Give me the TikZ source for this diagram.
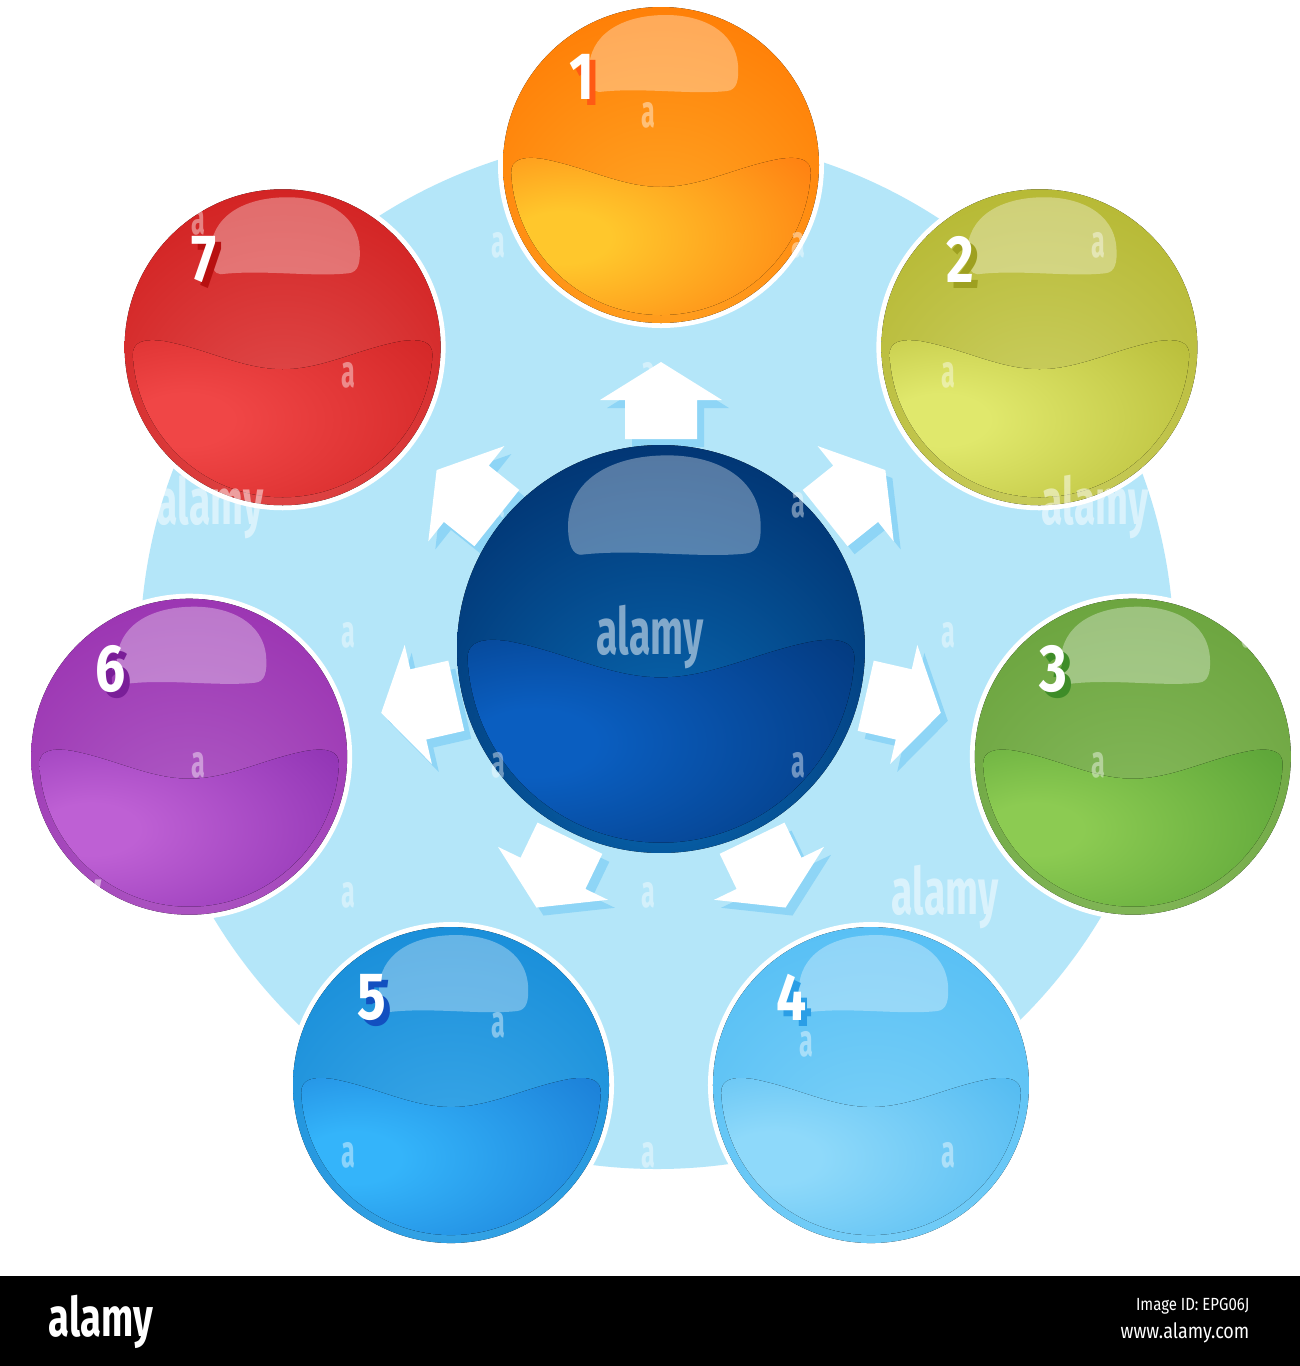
\documentclass[tikz,border=0pt]{standalone}
\usepackage{fontspec}
\setmainfont{Fira Sans}
\newfontfamily\numfont{Fira Sans}
\usetikzlibrary{calc}
\definecolor{sbase}{HTML}{FF7A00}
\definecolor{sglow}{HTML}{FFA428}
\definecolor{sbright}{HTML}{FFC72C}
\definecolor{sdark}{HTML}{FF5200}
\definecolor{sshadow}{HTML}{FF5A14}
\definecolor{bgblue}{HTML}{B4E6F9}
\definecolor{arrowshade}{HTML}{8ED5F6}
\pgfdeclareradialshading[sbase,sglow]{basesh}{\pgfpoint{0bp}{-15bp}}{color(0bp)=(sglow); color(8bp)=(sglow); color(42bp)=(sbase); color(90bp)=(sbase)}
\pgfdeclareradialshading[sbright,sdark]{bandsh}{\pgfpoint{-18bp}{0bp}}{color(0bp)=(sbright); color(8bp)=(sbright); color(64bp)=(sdark); color(90bp)=(sdark)}
\tikzset{
  numtxt/.style={font=\numfont\bfseries\fontsize{19}{19}\selectfont, inner sep=0pt},
  wmword/.style={font=\numfont\bfseries\fontsize{18.5}{18.5}\selectfont, text=white, opacity=0.5, inner sep=0pt},
  wma/.style={font=\numfont\bfseries\fontsize{13}{13}\selectfont, text=white, opacity=0.42, inner sep=0pt},
  arrowbody/.style={fill=white},
  arrowshadow/.style={fill=arrowshade}
}
\newcommand\drawball[4]{%
  \begin{scope}[shift={(#1,#2)}, scale=#3]
    \ifnum#4=1 \fill[white] (0,0) circle[radius=163];\fi
    \fill[shading=basesh] (0,0) circle[radius=158];
    \fill[shading=bandsh] (-149.8,7.85)
      .. controls (-150,-6) and (-138,-9) .. (-118,-6)
      .. controls (-75,2) and (-40,22) .. (0,22)
      .. controls (40,22) and (75,2) .. (118,-6)
      .. controls (138,-9) and (150,-6) .. (149.8,7.85)
      arc[start angle=3, end angle=177, radius=150] -- cycle;
    \fill[white, opacity=0.33] (-62,-73)
      .. controls (-20,-78) and (30,-70) .. (66,-74)
      .. controls (76,-75) and (78,-85) .. (77,-100)
      .. controls (74,-135) and (40,-150) .. (5,-150)
      .. controls (-40,-150) and (-72,-130) .. (-72,-95)
      .. controls (-72,-80) and (-68,-73) .. (-62,-73) -- cycle;
  \end{scope}}
\begin{document}
\begin{tikzpicture}[x=0.01cm, y=-0.01cm]
\useasboundingbox (0,0) rectangle (1300,1366);
\fill[white] (0,0) rectangle (1300,1366);
% background disc
\fill[bgblue] (657,652) circle[radius=517];
\coordinate (hub) at (661,649);
% arrows
\foreach \k in {1,...,7}{
  \pgfmathsetmacro\a{90-(\k-1)*360/7}
  \fill[arrowshadow, shift={(668,657)}, rotate=\a] (210,-36) -- (249,-36) -- (249,-61) -- (287,0) -- (249,61) -- (249,36) -- (210,36) -- cycle;
  \fill[arrowbody, shift={(hub)}, rotate=\a] (210,-36) -- (249,-36) -- (249,-61) -- (287,0) -- (249,61) -- (249,36) -- (210,36) -- cycle;
}
% centre ball
\definecolor{sbase}{HTML}{002A66}
\definecolor{sglow}{HTML}{075FA6}
\definecolor{sbright}{HTML}{0A5EC0}
\definecolor{sdark}{HTML}{002356}
\drawball{661}{649}{1.291}{0}
% outer balls
\foreach \k/\cb/\cg/\cbr/\cd/\cs in {
  1/FF7600/FFA020/FFC72C/FF5200/FF5A14,
  2/B2B42A/C8CC5C/E0E86C/A0A21A/9EA020,
  3/66A038/82B658/8CCB52/3E8C28/3E8C28,
  4/50BCF4/76CEF7/8ED9FA/2EA8EC/2A9EE6,
  5/1289D6/36A4E6/34B4FA/0C5EC2/1250C0,
  6/972CAE/AC56C2/BE60D4/7418A0/7A1E98,
  7/D01A1A/DE4646/F04646/C21414/B81010}{
  \pgfmathsetmacro\a{90-(\k-1)*360/7}
  \pgfmathsetmacro\xx{661+484*cos(\a)}
  \pgfmathsetmacro\yy{649-484*sin(\a)}
  \definecolor{sbase}{HTML}{\cb}
  \definecolor{sglow}{HTML}{\cg}
  \definecolor{sbright}{HTML}{\cbr}
  \definecolor{sdark}{HTML}{\cd}
  \definecolor{sshadow}{HTML}{\cs}
  \coordinate (s\k) at (\xx,\yy);
  \drawball{\xx}{\yy}{1}{1}
  \node[numtxt, text=white] (n\k) at ($(s\k)+(-79,-85)$) {\makebox[0pt][l]{\kern0.06cm\raisebox{-0.06cm}{\textcolor{sshadow}{\scalebox{0.8}[1]{\k}}}}\scalebox{0.8}[1]{\k}};
}
% watermark letters
\foreach \px/\py [count=\i] in {648/115,198/222,498/245,798/245,1098/245,348/375,648/375,948/375,498/505,798/505,348/635,948/635,1248/635,198/765,498/765,798/765,1098/765,348/895,648/895,498/1025,806/1044,348/1155,648/1155,948/1155}{
  \node[wma] (wa\i) at (\px,\py) {\scalebox{0.55}[1]{a}};
}
\foreach \px/\py [count=\i] in {650/637,210/507,1095/507,945/897,48/897}{
  \node[wmword] (ww\i) at (\px,\py) {\scalebox{0.6}[1]{alamy}};
}
% bottom bar
\fill[black] (0,1276) rectangle (1300,1366);
\node[anchor=base west, text=white, inner sep=0pt, font=\numfont\bfseries\fontsize{15.5}{15.5}\selectfont] (logo) at (48,1336) {\scalebox{0.7}[1]{alamy}};
\node[anchor=base east, text=white, inner sep=0pt, font=\numfont\fontsize{5}{5}\selectfont] (imgid) at (1250,1310) {\scalebox{0.85}[1]{Image ID: EPG06J}};
\node[anchor=base east, text=white, inner sep=0pt, font=\numfont\fontsize{6}{6}\selectfont] (www) at (1250,1338) {\scalebox{0.85}[1]{www.alamy.com}};
\end{tikzpicture}
\end{document}
